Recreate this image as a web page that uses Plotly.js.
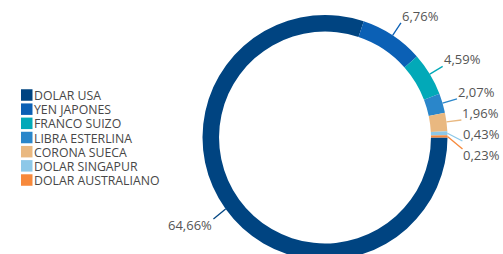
<!DOCTYPE html>
<html>
<head>
<meta charset="utf-8">
<script src="https://cdn.plot.ly/plotly-3.0.1.min.js"></script>
<style>
html,body{margin:0;padding:0;overflow:hidden;background:#fff;}
#chart{width:503px;height:280px;}
</style>
</head>
<body>
<div id="chart"></div>
<script>
// ---- data ----
const labels = ['DOLAR USA','YEN JAPONES','FRANCO SUIZO','LIBRA ESTERLINA','CORONA SUECA','DOLAR SINGAPUR','DOLAR AUSTRALIANO'];
const values = [64.66, 6.76, 4.59, 2.07, 1.96, 0.43, 0.23];
const colors = ['#004481','#0B60B5','#02A9B8','#2A86CA','#E9B880','#8DC8E8','#F7893B'];

// ---- geometry (pixels) ----
const W = 503, H = 280;
const cx = 325, cy = 137.5, R = 122.5;
const startAngle = 90;   // degrees clockwise from 12 o'clock
const lineLen = 15;
const textColor = '#555555';
const fontFam = '"Open Sans", Arial, sans-serif';

const toX = px => px / W;
const toY = py => 1 - py / H;

const fmt = v => v.toFixed(2).replace('.', ',') + '%';

const trace = {
  type: 'pie',
  labels: labels,
  values: values,
  sort: false,
  direction: 'clockwise',
  rotation: startAngle,
  hole: 0.865,
  textinfo: 'none',
  hoverinfo: 'label+value',
  marker: {colors: colors, line: {width: 0}},
  showlegend: false,
  domain: {x: [toX(cx - R), toX(cx + R)], y: [toY(cy + R), toY(cy - R)]}
};

// ---- label positions derived from the values ----
const total = values.reduce((a, b) => a + b, 0);
let acc = startAngle;
const lab = values.map((v, i) => {
  const span = v / total * 360;
  const mid = (acc + span / 2) % 360;
  acc += span;
  const r = mid * Math.PI / 180;
  const s = Math.sin(r), c = Math.cos(r);
  const right = s > 0;
  const upper = (mid < 89) || (mid > 271);
  const ex = cx + (R + lineLen) * s;
  const ey = cy - (R + lineLen) * c;
  return {i, mid, s, c, right, upper,
          px: cx + R * s, py: cy - R * c,
          ex, ey, ty: upper ? ey - 7 : ey + 7};
});
// spread right-side labels vertically
const rightLabs = lab.filter(l => l.right).sort((a, b) => a.mid - b.mid);
for (let k = 1; k < rightLabs.length; k++) {
  const prev = rightLabs[k - 1], cur = rightLabs[k];
  if (cur.ty < prev.ty + 21) cur.ty = prev.ty + 21;
}
lab.forEach(l => { l.ey = l.upper ? l.ty + 7 : l.ty - 6; });

const shapes = [];
const annotations = [];
lab.forEach(l => {
  shapes.push({type: 'line', xref: 'paper', yref: 'paper',
    x0: toX(l.px), y0: toY(l.py), x1: toX(l.ex), y1: toY(l.ey),
    line: {color: colors[l.i], width: 1.3}});
  annotations.push({xref: 'paper', yref: 'paper', showarrow: false,
    x: toX(l.right ? l.ex - 1 : l.ex + 1), y: toY(l.ty),
    xanchor: l.right ? 'left' : 'right', yanchor: 'middle',
    text: fmt(values[l.i]),
    font: {family: fontFam, size: 13, color: textColor}});
});

// ---- legend ----
const legTop = 95, legStep = 14.17, sq = 11.5, legX = 21;
labels.forEach((name, i) => {
  const y = legTop + i * legStep;
  shapes.push({type: 'rect', xref: 'paper', yref: 'paper',
    x0: toX(legX), x1: toX(legX + sq), y0: toY(y - sq / 2), y1: toY(y + sq / 2),
    fillcolor: colors[i], line: {width: 0}});
  annotations.push({xref: 'paper', yref: 'paper', showarrow: false,
    x: toX(legX + sq + 1.3), y: toY(y + 0.5), xanchor: 'left', yanchor: 'middle',
    borderpad: 0, borderwidth: 0,
    text: name, font: {family: fontFam, size: 12.3, color: '#474747'}});
});

const layout = {
  width: W, height: H,
  margin: {l: 0, r: 0, t: 0, b: 0},
  paper_bgcolor: '#ffffff',
  showlegend: false,
  shapes: shapes,
  annotations: annotations
};

Plotly.newPlot('chart', [trace], layout, {displayModeBar: false, staticPlot: true});
</script>
</body>
</html>
